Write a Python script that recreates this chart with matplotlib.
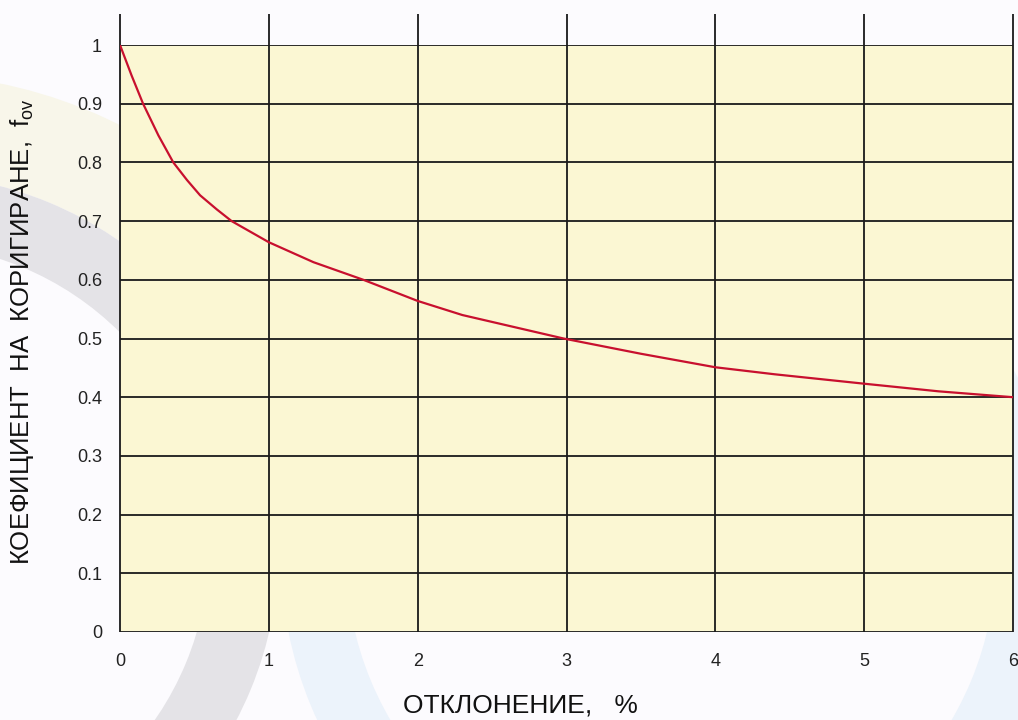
import matplotlib
matplotlib.use('Agg')
import matplotlib.pyplot as plt
from matplotlib.patches import Wedge
import numpy as np

plt.rcParams['font.family'] = ['Liberation Sans', 'DejaVu Sans']
plt.rcParams['mathtext.fontset'] = 'custom'
plt.rcParams['mathtext.rm'] = 'Liberation Sans'

# values
deviation = [0, 0.078, 0.155, 0.258, 0.358, 0.45, 0.538, 0.65, 0.75, 1.0, 1.3,
             1.635, 2.0, 2.3, 2.98, 3.5, 4.0, 4.4, 5.0, 5.5, 6.0]
factor = [1.0, 0.948, 0.9, 0.846, 0.8, 0.77, 0.744, 0.72, 0.7, 0.664, 0.63,
          0.6, 0.564, 0.54, 0.5, 0.474, 0.451, 0.439, 0.423, 0.41, 0.40]

x_ticks = [0, 1, 2, 3, 4, 5, 6]
y_ticks = [0, 0.1, 0.2, 0.3, 0.4, 0.5, 0.6, 0.7, 0.8, 0.9, 1.0]
y_ticklabels = ['0', '0.1', '0.2', '0.3', '0.4', '0.5', '0.6', '0.7', '0.8', '0.9', '1']

W, H = 1018, 720
fig = plt.figure(figsize=(W / 100, H / 100), dpi=100, facecolor='#fcfbfe')

# faint watermark swooshes behind the chart (pixel coords, y down)
bg = fig.add_axes([0, 0, 1, 1], zorder=0)
bg.set_xlim(0, W)
bg.set_ylim(H, 0)
bg.axis('off')
bg.add_patch(Wedge((-94, 547), 473, 250, 340, width=100, facecolor='#f8f6ea', edgecolor='none'))
bg.add_patch(Wedge((-94, 547), 373, 0, 360, width=70, facecolor='#e4e3e7', edgecolor='none'))
bg.add_patch(Wedge((671, 556), 390, 0, 360, width=65, facecolor='#ecf3fb', edgecolor='none'))

left, right, top, bottom = 120, 1013, 45, 632
ax = fig.add_axes([left / W, 1 - bottom / H, (right - left) / W, (bottom - top) / H], zorder=1)
ax.set_facecolor('#fbf7d3')
ax.set_xlim(0, 6)
ax.set_ylim(0, 1)

ax.hlines(y_ticks, 0, 6, colors='#1a1a1a', linewidth=1.3, zorder=2)
ax.vlines(x_ticks, 0, 1.053, colors='#1a1a1a', linewidth=1.3, zorder=2, clip_on=False)

ax.plot(deviation, factor, color='#c8102e', linewidth=1.6, zorder=3)

for s in ax.spines.values():
    s.set_visible(False)

ax.set_xticks(x_ticks)
ax.set_xticklabels([str(t) for t in x_ticks])
ax.set_yticks(y_ticks)
ax.set_yticklabels(y_ticklabels)
ax.tick_params(length=0, labelsize=13, labelcolor='#222222')
ax.tick_params(axis='x', pad=15)
ax.tick_params(axis='y', pad=13)

fig.text(22 / W, 1 - 332 / H, 'КОЕФИЦИЕНТ  НА  КОРИГИРАНЕ,  $\\mathregular{f_{ov}}$',
         rotation=90, ha='center', va='center', fontsize=18.5, color='#111111')
fig.text(403 / W, 1 - 705 / H, 'ОТКЛОНЕНИЕ,   %', ha='left', va='center',
         fontsize=19, color='#111111')

plt.savefig('out.png', dpi=100, facecolor=fig.get_facecolor())
